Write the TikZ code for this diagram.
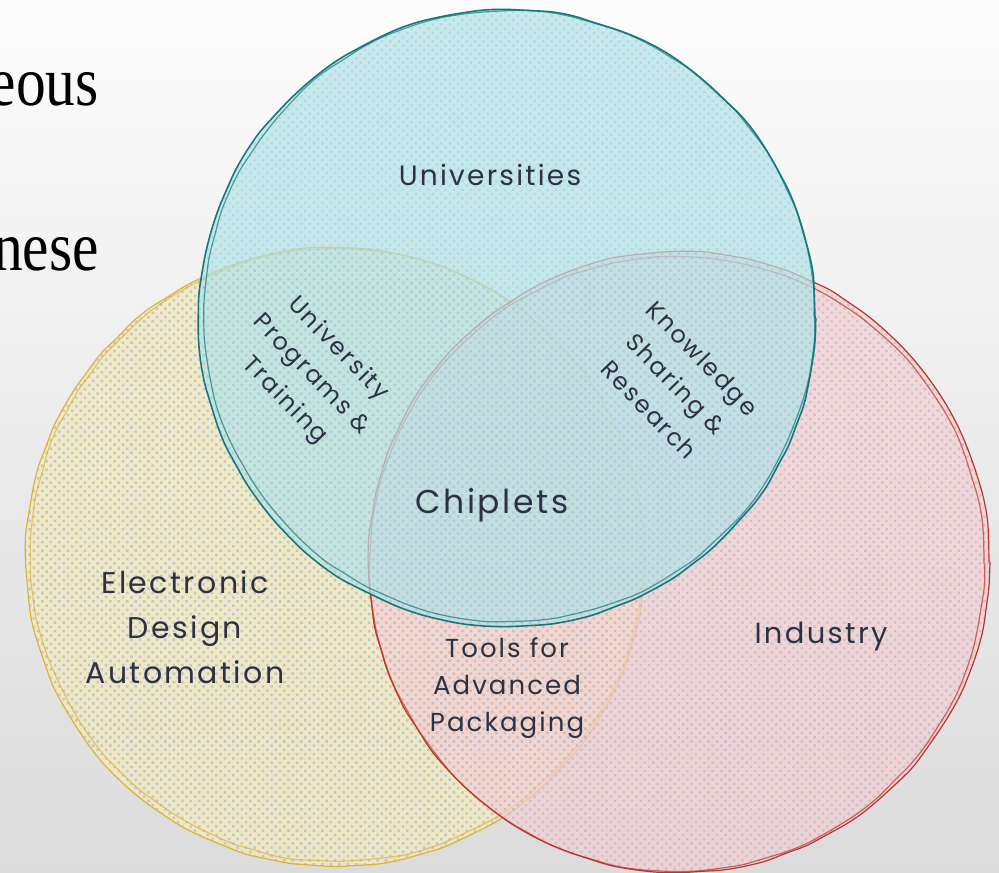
\documentclass[tikz,border=0pt]{standalone}
\usepackage{fontspec}
\setmainfont{Liberation Serif}
\newfontfamily\sketchfont[LetterSpace=8]{Poppins}
\usetikzlibrary{decorations.pathmorphing, patterns.meta}

\definecolor{uniline}{RGB}{22,120,124}
\definecolor{unifill}{RGB}{176,228,232}
\definecolor{edaline}{RGB}{220,178,60}
\definecolor{edafill}{RGB}{242,234,192}
\definecolor{indline}{RGB}{186,52,40}
\definecolor{indfill}{RGB}{246,206,208}
\definecolor{ink}{RGB}{44,49,68}
\definecolor{grain}{RGB}{172,180,204}

\tikzset{
  sketch/.style={line width=1.2pt, decorate, rounded corners=8pt,
    decoration={random steps, segment length=22pt, amplitude=0.9pt}},
  grainy/.style={pattern={Dots[distance=6pt, radius=1.8pt, angle=45]}, pattern color=grain},
  slide/.style={anchor=base east, inner sep=0pt, xscale=0.85, transform shape, font=\fontsize{70}{72}\selectfont},
  tag/.style={font=\sketchfont\fontsize{24}{37}\selectfont, text=ink, align=center, inner sep=0pt}
}

\begin{document}
\begin{tikzpicture}[x=1pt, y=-1pt]
  \useasboundingbox (0,0) rectangle (999,873);
  \clip (0,0) rectangle (999,873);
  \shade[top color=black!1, middle color=black!3, bottom color=black!14] (0,0) rectangle (999,873);

  % slide text behind the picture
  \node[slide] (slideA) at (99,105) {eous};
  \node[slide] (slideB) at (99,270) {nese};

  % EDA
  \fill[edafill, fill opacity=0.85] (335,557) circle[radius=309pt];
  \fill[grainy, fill opacity=0.65] (335,557) circle[radius=309pt];
  \draw[sketch, edaline] (335,557) circle[radius=309pt];
  \draw[sketch, edaline, opacity=0.7] (337,555) circle[radius=306pt];

  % industry
  \fill[indfill, fill opacity=0.7] (679,562) circle[radius=310pt];
  \fill[grainy, fill opacity=0.55] (679,562) circle[radius=310pt];
  \draw[sketch, indline] (679,562) circle[radius=310pt];
  \draw[sketch, indline, opacity=0.7] (677,564) circle[radius=307pt];

  % universities
  \fill[unifill, fill opacity=0.7] (507,318) circle[radius=308pt];
  \fill[grainy, fill opacity=0.35] (507,318) circle[radius=308pt];
  \draw[sketch, uniline, line width=1.6pt] (507,318) circle[radius=308pt];
  \draw[sketch, uniline, opacity=0.7] (509,316) circle[radius=305pt];

  \node[tag, font=\sketchfont\fontsize{28}{37}\selectfont] (uni) at (490,175) {Universities};
  \node[tag, font=\sketchfont\fontsize{30}{45}\selectfont] (eda) at (185,627) {Electronic\\Design\\Automation};
  \node[tag, font=\sketchfont\fontsize{29}{37}\selectfont] (ind) at (821,637) {Industry};
  \node[tag, font=\sketchfont\fontsize{33}{37}\selectfont] (chip) at (492,505) {Chiplets};
  \node[tag] (upt) at (311,375) [rotate=-46] {University\\Programs \&\\Training};
  \node[tag] (ksr) at (676,384) [rotate=-46] {Knowledge\\Sharing \&\\Research};
  \node[tag, font=\sketchfont\fontsize{26}{37}\selectfont] (tap) at (507,688) {Tools for\\Advanced\\Packaging};
\end{tikzpicture}
\end{document}
